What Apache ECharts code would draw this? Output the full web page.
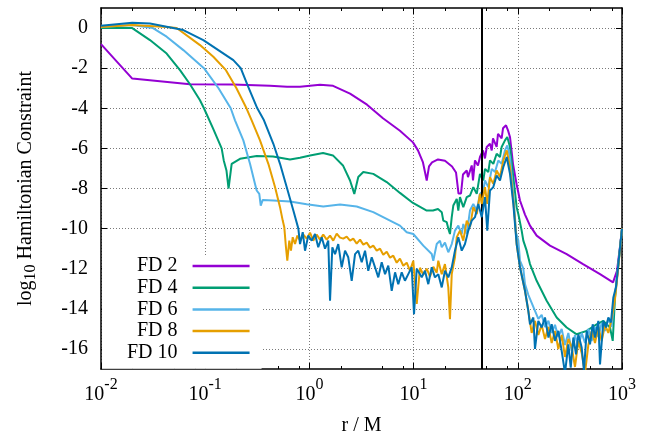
<!DOCTYPE html>
<html>
<head>
<meta charset="utf-8">
<title>Hamiltonian constraint vs radius</title>
<script src="https://cdn.jsdelivr.net/npm/echarts@6/dist/echarts.min.js"></script>
<style>
  html, body { margin: 0; padding: 0; background: #fff; }
  #chart { width: 647px; height: 435px; }
</style>
</head>
<body>
<div id="chart"></div>
<script>
// Each point is [log10(r / M), log10 |Hamiltonian constraint|]
const fd2 = [
  [-2.0, -0.8], [-1.70, -2.52], [-1.146, -2.8], [-0.733, -2.82], [-0.378, -2.88], [-0.215, -2.93],
  [-0.09, -2.93], [0.102, -2.83], [0.227, -2.88], [0.39, -3.27], [0.553, -3.82], [0.706, -4.5],
  [0.869, -5.12], [0.994, -5.7], [1.042, -6.1], [1.090, -6.7], [1.126, -7.6], [1.148, -6.9],
  [1.177, -6.7], [1.234, -6.55], [1.301, -6.62], [1.369, -6.9], [1.407, -7.2], [1.431, -8.25],
  [1.455, -8.25], [1.474, -7.3], [1.510, -7.1], [1.522, -7.43], [1.558, -6.85], [1.570, -7.6],
  [1.589, -6.6], [1.618, -6.85], [1.637, -6.43], [1.666, -6.1], [1.685, -6.5], [1.702, -5.93],
  [1.733, -5.77], [1.750, -6.1], [1.762, -5.5], [1.797, -5.93], [1.810, -5.27], [1.845, -5.5],
  [1.858, -5.0], [1.887, -4.85], [1.906, -5.1], [1.925, -5.43], [1.954, -6.77], [1.989, -7.8],
  [2.021, -8.6], [2.069, -9.3], [2.117, -9.85], [2.181, -10.35], [2.309, -10.85], [2.469, -11.27],
  [2.626, -11.77], [2.789, -12.27], [2.914, -12.68], [2.952, -12.1], [2.981, -10.9], [3.0, -10.0]
];

const fd4 = [
  [-2.0, 0.0], [-1.70, 0.0], [-1.530, -0.6], [-1.370, -1.27], [-1.242, -2.1], [-1.146, -2.8],
  [-1.050, -3.6], [-1.012, -4.0], [-0.925, -5.0], [-0.842, -6.0], [-0.822, -6.6], [-0.796, -7.1],
  [-0.776, -8.0], [-0.746, -6.77], [-0.666, -6.52], [-0.506, -6.38], [-0.349, -6.4], [-0.186, -6.55],
  [-0.090, -6.47], [0.006, -6.35], [0.131, -6.23], [0.226, -6.35], [0.322, -6.85], [0.390, -7.6],
  [0.431, -8.27], [0.469, -7.43], [0.517, -7.18], [0.613, -7.27], [0.742, -7.68], [0.869, -8.22],
  [0.994, -8.72], [1.126, -9.1], [1.186, -9.1], [1.234, -9.02], [1.270, -9.18], [1.285, -9.6],
  [1.318, -9.68], [1.333, -10.0], [1.349, -10.27], [1.366, -9.43], [1.381, -8.85], [1.414, -8.52],
  [1.429, -9.1], [1.445, -8.43], [1.477, -8.93], [1.510, -8.43], [1.541, -8.35], [1.573, -7.93],
  [1.606, -8.27], [1.637, -7.27], [1.669, -7.6], [1.685, -7.02], [1.717, -7.18], [1.733, -6.6],
  [1.765, -6.77], [1.797, -6.27], [1.829, -6.43], [1.845, -5.93], [1.877, -5.6], [1.899, -5.43],
  [1.925, -5.93], [1.957, -7.43], [1.989, -8.93], [2.005, -9.27], [2.037, -10.1], [2.053, -10.6],
  [2.085, -11.1], [2.117, -11.77], [2.181, -12.6], [2.277, -13.6], [2.373, -14.43], [2.469, -14.93],
  [2.565, -15.27], [2.661, -15.1], [2.757, -14.77], [2.821, -14.6], [2.885, -14.93], [2.911, -15.6],
  [2.933, -13.43], [2.965, -11.77], [3.0, -10.0]
];

const fd6 = [
  [-2.0, 0.05], [-1.70, 0.15], [-1.501, 0.0], [-1.370, -0.43], [-1.210, -1.1], [-1.012, -2.0],
  [-0.872, -3.0], [-0.755, -4.0], [-0.714, -4.6], [-0.634, -5.6], [-0.570, -6.77], [-0.522, -7.77],
  [-0.506, -8.1], [-0.481, -8.27], [-0.467, -8.85], [-0.448, -8.57], [-0.346, -8.6],
  [-0.186, -8.65], [-0.026, -8.78], [0.133, -8.9], [0.294, -8.8], [0.454, -8.9], [0.613, -9.18],
  [0.774, -9.6], [0.869, -9.85], [0.934, -10.18], [0.997, -10.27], [1.093, -10.85], [1.174, -11.27],
  [1.189, -11.6], [1.222, -10.77], [1.253, -10.6], [1.270, -10.93], [1.301, -10.7], [1.333, -11.18],
  [1.366, -10.77], [1.397, -10.1], [1.429, -9.85], [1.462, -10.27], [1.477, -9.77], [1.510, -10.27],
  [1.541, -9.1], [1.573, -8.77], [1.606, -9.1], [1.637, -8.27], [1.669, -8.1], [1.685, -7.6],
  [1.717, -7.93], [1.750, -7.02], [1.781, -7.18], [1.813, -6.6], [1.845, -6.77], [1.877, -6.1],
  [1.899, -5.85], [1.925, -6.43], [1.957, -8.27], [1.983, -10.2], [2.005, -10.6], [2.021, -11.6],
  [2.053, -12.0], [2.069, -12.77], [2.101, -13.3], [2.149, -13.9], [2.197, -14.5], [2.229, -14.3],
  [2.261, -14.9], [2.294, -14.6], [2.325, -15.2], [2.357, -14.8], [2.389, -15.4], [2.421, -15.0],
  [2.453, -15.8], [2.485, -15.2], [2.517, -16.1], [2.549, -15.3], [2.581, -15.9], [2.613, -15.2],
  [2.645, -15.7], [2.677, -15.0], [2.709, -15.6], [2.741, -14.9], [2.773, -15.4], [2.805, -14.7],
  [2.837, -15.1], [2.869, -14.5], [2.901, -14.9], [2.933, -13.3], [2.965, -11.8], [3.0, -10.0]
];

const fd8 = [
  [-2.0, 0.05], [-1.70, 0.15], [-1.370, 0.05], [-1.274, 0.0], [-1.050, -0.85], [-0.922, -1.43],
  [-0.801, -2.1], [-0.700, -3.0], [-0.604, -4.0], [-0.554, -4.6], [-0.474, -5.6], [-0.394, -6.77],
  [-0.330, -7.93], [-0.282, -8.93], [-0.256, -9.6], [-0.241, -9.93], [-0.225, -10.93], [-0.212, -11.6],
  [-0.193, -10.6], [-0.177, -11.1], [-0.160, -10.43], [-0.138, -10.77], [-0.116, -10.35], [-0.090, -10.6],
  [-0.058, -10.3], [-0.026, -10.5], [0.006, -10.2], [0.037, -10.6], [0.070, -10.3], [0.102, -10.55],
  [0.133, -10.3], [0.166, -10.55], [0.198, -10.35], [0.229, -10.6], [0.262, -10.25], [0.294, -10.45],
  [0.325, -10.5], [0.358, -10.4], [0.390, -10.6], [0.421, -10.5], [0.454, -10.75], [0.486, -10.55],
  [0.517, -10.8], [0.550, -10.7], [0.582, -10.95], [0.613, -10.85], [0.646, -11.1], [0.678, -11.0],
  [0.709, -11.3], [0.742, -11.15], [0.774, -11.45], [0.805, -11.35], [0.838, -11.7], [0.869, -11.5],
  [0.901, -11.85], [0.934, -11.7], [0.965, -12.1], [0.997, -11.6], [1.030, -13.75], [1.061, -11.95],
  [1.093, -12.3], [1.126, -12.0], [1.157, -12.4], [1.189, -11.9], [1.222, -12.2], [1.237, -11.6],
  [1.270, -12.27], [1.301, -11.77], [1.333, -12.93], [1.349, -14.52], [1.366, -12.27], [1.397, -11.43],
  [1.414, -10.43], [1.445, -10.1], [1.477, -10.6], [1.510, -9.6], [1.541, -9.93], [1.573, -8.93],
  [1.606, -9.27], [1.637, -8.27], [1.654, -8.77], [1.685, -7.93], [1.707, -8.77], [1.733, -7.43],
  [1.765, -7.77], [1.797, -7.1], [1.829, -7.43], [1.861, -6.6], [1.894, -6.1], [1.925, -6.93],
  [1.957, -8.6], [1.973, -9.6], [1.989, -10.77], [2.021, -11.93], [2.069, -13.1], [2.101, -14.1],
  [2.133, -15.2], [2.165, -14.6], [2.197, -15.3], [2.229, -14.8], [2.261, -15.5], [2.294, -14.9],
  [2.325, -15.7], [2.357, -15.1], [2.389, -16.0], [2.421, -15.3], [2.453, -16.4], [2.485, -15.5],
  [2.517, -15.9], [2.549, -16.9], [2.581, -15.6], [2.613, -16.2], [2.645, -17.2], [2.677, -15.8],
  [2.709, -15.1], [2.741, -15.7], [2.773, -14.9], [2.805, -15.6], [2.837, -14.8], [2.869, -15.2],
  [2.901, -14.5], [2.933, -13.5], [2.965, -11.9], [3.0, -10.0]
];

const fd10 = [
  [-2.0, 0.12], [-1.70, 0.27], [-1.530, 0.23], [-1.210, -0.1], [-1.018, -0.6], [-0.730, -1.6],
  [-0.659, -2.0], [-0.590, -2.9], [-0.500, -4.0], [-0.436, -4.6], [-0.346, -5.77], [-0.282, -6.77],
  [-0.218, -7.93], [-0.154, -9.1], [-0.106, -10.0], [-0.090, -10.77], [-0.064, -10.18], [-0.042, -11.1],
  [-0.011, -10.35], [0.022, -10.6], [0.054, -10.27], [0.085, -10.93], [0.118, -10.43], [0.150, -11.0],
  [0.181, -10.6], [0.198, -13.6], [0.220, -10.93], [0.246, -11.27], [0.277, -10.77], [0.310, -11.93],
  [0.342, -11.1], [0.373, -11.43], [0.406, -12.6], [0.438, -11.27], [0.469, -11.1], [0.502, -11.68],
  [0.534, -11.1], [0.565, -12.1], [0.598, -11.43], [0.630, -11.93], [0.661, -12.43], [0.694, -11.68],
  [0.726, -12.27], [0.757, -11.85], [0.790, -13.1], [0.822, -12.18], [0.853, -12.77], [0.886, -12.18],
  [0.917, -12.6], [0.949, -12.27], [0.982, -11.93], [1.004, -14.27], [1.030, -12.0], [1.078, -12.43],
  [1.109, -12.1], [1.141, -12.77], [1.174, -11.93], [1.205, -12.43], [1.237, -12.27], [1.270, -12.93],
  [1.301, -12.1], [1.333, -12.43], [1.366, -11.93], [1.397, -11.1], [1.429, -10.43], [1.462, -11.1],
  [1.493, -10.77], [1.525, -10.1], [1.558, -9.6], [1.589, -9.43], [1.621, -8.77], [1.654, -9.43],
  [1.685, -8.43], [1.707, -10.1], [1.733, -8.1], [1.765, -7.93], [1.797, -7.35], [1.829, -7.6],
  [1.861, -6.93], [1.894, -6.43], [1.925, -7.27], [1.957, -8.77], [1.989, -10.77], [2.021, -11.93],
  [2.069, -13.1], [2.101, -14.1], [2.117, -14.77], [2.149, -14.43], [2.165, -16.0], [2.197, -14.6],
  [2.229, -14.93], [2.261, -14.43], [2.294, -15.43], [2.325, -14.77], [2.357, -15.6], [2.389, -15.1],
  [2.421, -16.1], [2.453, -17.2], [2.485, -15.77], [2.508, -16.93], [2.533, -15.43], [2.559, -16.27],
  [2.581, -15.27], [2.613, -15.93], [2.635, -17.1], [2.661, -15.1], [2.693, -15.77], [2.719, -14.77],
  [2.741, -15.43], [2.773, -14.6], [2.789, -16.77], [2.821, -14.6], [2.846, -14.93], [2.869, -14.43],
  [2.894, -14.68], [2.917, -13.43], [2.942, -12.93], [2.965, -11.77], [2.988, -10.6], [3.0, -10.02]
];

const seriesData = [fd2, fd4, fd6, fd8, fd10];
const seriesNames = ['FD 2', 'FD 4', 'FD 6', 'FD 8', 'FD 10'];
const seriesColors = ['#9400d3', '#009e73', '#56b4e9', '#e69f00', '#0072b2'];

// Axis ticks
const yTicks = [0, -2, -4, -6, -8, -10, -12, -14, -16];
const minorTickR = [0.02, 0.05, 0.08, 0.2, 0.5, 0.8, 2, 5, 8, 20, 50, 80, 200, 500, 800];
const excisionR = 45;   // radius of the vertical marker line

const SERIF = 'Liberation Serif';
const minorTicks = minorTickR.map(v => Math.log10(v));
const frameLine = { color: '#000', width: 1.5 };
const gridLine = { color: '#7a7a7a', width: 1, type: [1, 2] };

const xBase = { type: 'value', min: -2, max: 3, interval: 1 };

const chart = echarts.init(document.getElementById('chart'), null, { renderer: 'canvas' });

const series = seriesData.map((d, i) => ({
  name: seriesNames[i],
  type: 'line',
  data: d,
  symbol: 'none',
  showSymbol: false,
  smooth: false,
  clip: true,
  color: seriesColors[i],
  lineStyle: { color: seriesColors[i], width: 2 },
  z: 2 + i
}));

series[series.length - 1].markLine = {
  silent: true,
  symbol: 'none',
  animation: false,
  label: { show: false },
  lineStyle: { color: '#000', width: 2, type: 'solid' },
  data: [{ xAxis: Math.log10(excisionR) }]
};

chart.setOption({
  animation: false,
  backgroundColor: '#fff',
  grid: { left: 101, right: 25, top: 8, bottom: 66, containLabel: false, outerBoundsMode: 'none' },
  legend: {
    orient: 'vertical',
    align: 'right',
    left: 102,
    top: 255,
    icon: 'rect',
    itemWidth: 57,
    itemHeight: 2.5,
    itemGap: 1.7,
    backgroundColor: '#fff',
    padding: [1, 12, 6, 25],
    selectedMode: false,
    textStyle: { fontFamily: SERIF, fontSize: 20, color: '#000', lineHeight: 20, padding: [0, 10, 0, 0] },
    data: seriesNames
  },
  xAxis: [
    Object.assign({}, xBase, {
      position: 'bottom',
      axisLine: { show: true, onZero: false, lineStyle: frameLine },
      axisTick: { show: true, inside: true, length: 6, lineStyle: { color: '#000', width: 1 } },
      axisLabel: {
        margin: 16,
        hideOverlap: false,
        overflow: 'none',
        formatter: v => '{b|10}{s|' + v + '}',
        rich: {
          b: { fontFamily: SERIF, fontSize: 20, lineHeight: 20, verticalAlign: 'bottom', color: '#000' },
          s: { fontFamily: SERIF, fontSize: 16, lineHeight: 16, verticalAlign: 'bottom', padding: [0, 0, 12, 0], color: '#000' }
        }
      },
      splitLine: { show: true, lineStyle: gridLine },
      name: 'r / M',
      nameLocation: 'middle',
      nameGap: 47,
      nameMoveOverlap: false,
      nameTextStyle: { fontFamily: SERIF, fontSize: 20, color: '#000' }
    }),
    Object.assign({}, xBase, {
      position: 'bottom',
      axisLine: { show: false, onZero: false },
      axisTick: { show: true, inside: true, length: 3, customValues: minorTicks, lineStyle: { color: '#000', width: 1 } },
      axisLabel: { show: false },
      splitLine: { show: false }
    }),
    Object.assign({}, xBase, {
      position: 'top',
      axisLine: { show: true, onZero: false, lineStyle: frameLine },
      axisTick: { show: true, inside: true, length: 6, lineStyle: { color: '#000', width: 1 } },
      axisLabel: { show: false },
      splitLine: { show: false }
    }),
    Object.assign({}, xBase, {
      position: 'top',
      axisLine: { show: false, onZero: false },
      axisTick: { show: true, inside: true, length: 3, customValues: minorTicks, lineStyle: { color: '#000', width: 1 } },
      axisLabel: { show: false },
      splitLine: { show: false }
    })
  ],
  yAxis: [
    {
      type: 'value', min: -17, max: 1, position: 'left',
      axisLine: { show: true, onZero: false, lineStyle: frameLine },
      axisTick: { show: true, inside: true, length: 6, customValues: yTicks, lineStyle: { color: '#000', width: 1 } },
      axisLabel: { customValues: yTicks, margin: 13, fontFamily: SERIF, fontSize: 20, color: '#000' },
      splitLine: { show: true, lineStyle: gridLine },
      name: 'log{sub|10} Hamiltonian Constraint',
      nameLocation: 'middle',
      nameRotate: 90,
      nameGap: 62,
      nameMoveOverlap: false,
      nameTextStyle: {
        fontFamily: SERIF, fontSize: 20, color: '#000',
        rich: { sub: { fontFamily: SERIF, fontSize: 16, color: '#000', padding: [10, 0, 0, 0] } }
      }
    },
    {
      type: 'value', min: -17, max: 1, position: 'right',
      axisLine: { show: true, onZero: false, lineStyle: frameLine },
      axisTick: { show: true, inside: true, length: 6, customValues: yTicks, lineStyle: { color: '#000', width: 1 } },
      axisLabel: { show: false },
      splitLine: { show: false }
    }
  ],
  series: series
});
</script>
</body>
</html>
